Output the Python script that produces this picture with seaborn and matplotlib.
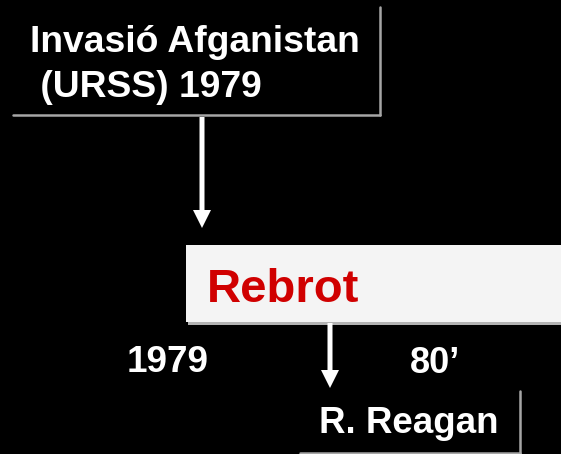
import matplotlib
matplotlib.use("Agg")
import matplotlib.pyplot as plt
import seaborn as sns
from matplotlib.patches import Rectangle, FancyArrow

sns.set_style("dark")
plt.rcParams['font.family'] = ['Liberation Sans', 'DejaVu Sans']

# diagram content
title_lines = ["Invasió Afganistan", " (URSS) 1979"]
event_label = "Rebrot"
left_label = "1979"
right_label = "80\u2019"
leader_label = "R. Reagan"

W, H = 561, 454
fig = plt.figure(figsize=(W / 100, H / 100), dpi=100, facecolor="black")
ax = fig.add_axes([0, 0, 1, 1])
ax.set_facecolor("black")
ax.set_xlim(0, W)
ax.set_ylim(H, 0)
ax.axis("off")

grey = "#a6a6a6"

# top box: only right and bottom edges drawn
ax.plot([13, 380], [115, 115], color=grey, lw=1.8)
ax.plot([380, 380], [7, 115], color=grey, lw=1.8)
ax.text(30, 52, title_lines[0], color="white", fontsize=26.8, fontweight="bold", va="baseline")
ax.text(30, 97, title_lines[1], color="white", fontsize=26.8, fontweight="bold", va="baseline")

# arrow down to Rebrot
ax.add_patch(FancyArrow(202, 117, 0, 111, width=5, head_width=18, head_length=18,
                        length_includes_head=True, color="white", lw=0))

# Rebrot bar
ax.add_patch(Rectangle((188, 247), 400, 78, color="#b3b3b3", lw=0))
ax.add_patch(Rectangle((186, 245), 400, 77, color="#f4f4f4", lw=0))
ax.text(207, 302, event_label, color="#d00000", fontsize=34, fontweight="bold", va="baseline")

# lower labels
ax.text(127, 372, left_label, color="white", fontsize=26.6, fontweight="bold", va="baseline")
ax.text(410, 373, right_label, color="white", fontsize=26, fontweight="bold", va="baseline")

# arrow down to Reagan
ax.add_patch(FancyArrow(330, 323, 0, 65, width=5, head_width=18, head_length=18,
                        length_includes_head=True, color="white", lw=0))

# Reagan box
ax.plot([300, 520], [453, 453], color=grey, lw=1.8)
ax.plot([520, 520], [391, 453], color=grey, lw=1.8)
ax.text(319, 433, leader_label, color="white", fontsize=26.5, fontweight="bold", va="baseline")

fig.savefig("out.png", dpi=100, facecolor="black")
